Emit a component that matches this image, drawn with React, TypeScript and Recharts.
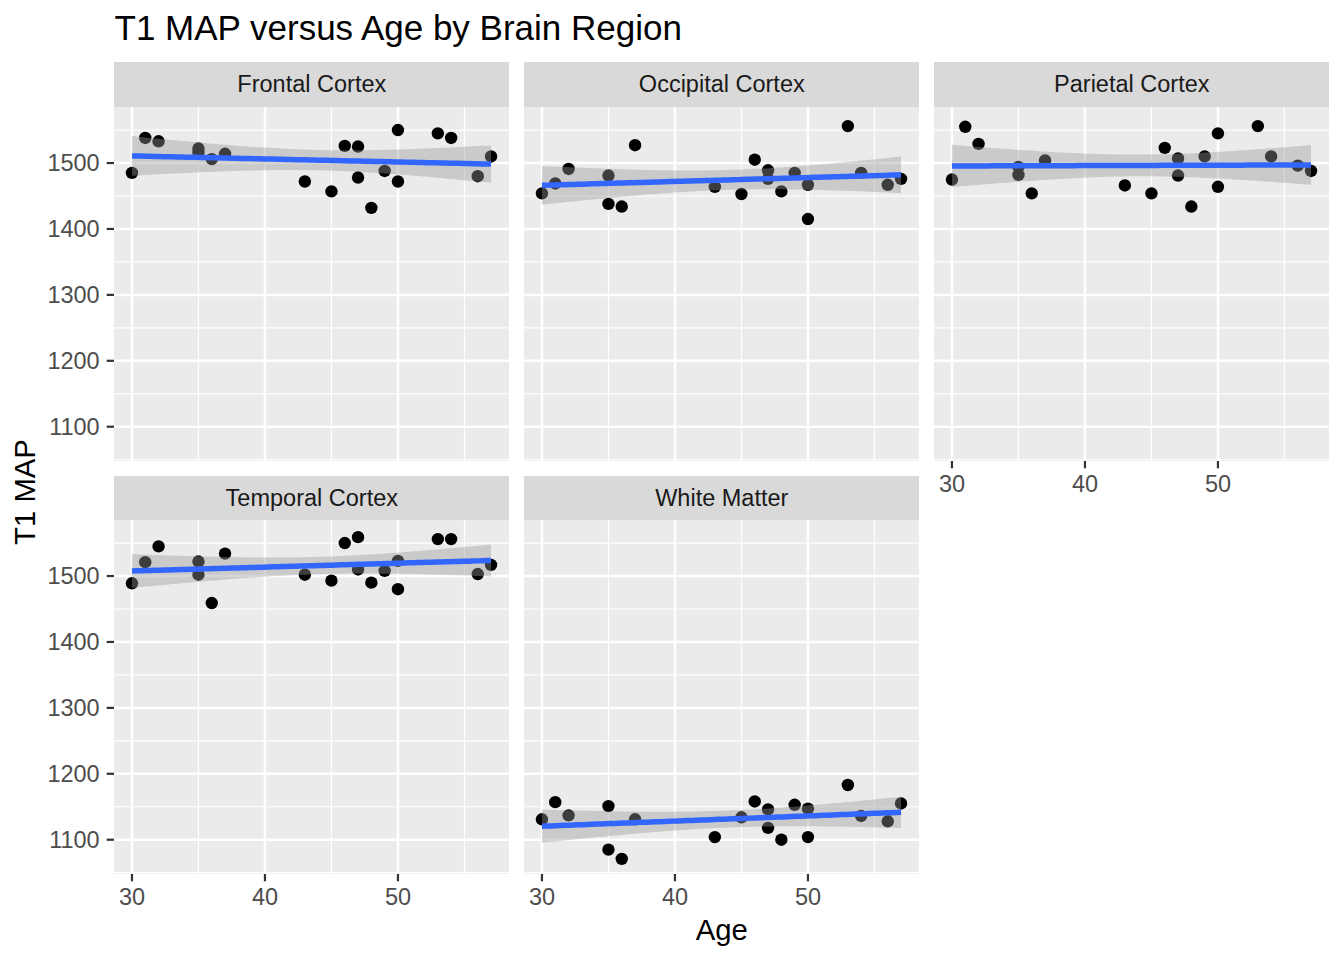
import React from 'react';
import { ComposedChart, XAxis, YAxis, Scatter, Line, Area, ReferenceLine } from 'recharts';

// subject ages, shared by every region
const AGES = [30, 31, 32, 35, 35, 36, 37, 43, 45, 46, 47, 47, 48, 49, 50, 50, 53, 54, 56, 57];

// T1 MAP per region, same order as AGES
const FRONTAL = [1485, 1538, 1533, 1522, 1516, 1506, 1514, 1472, 1457, 1526, 1525, 1478, 1432, 1488, 1550, 1472, 1545, 1538, 1480, 1510];
const OCCIPITAL = [1454, 1469, 1491, 1481, 1438, 1434, 1527, 1464, 1453, 1505, 1489, 1476, 1457, 1485, 1467, 1415, 1556, 1485, 1467, 1476];
const PARIETAL = [1475, 1555, 1529, 1494, 1482, 1454, 1504, 1466, 1454, 1523, 1507, 1481, 1434, 1510, 1545, 1464, 1556, 1510, 1496, 1488];
const TEMPORAL = [1489, 1521, 1545, 1522, 1502, 1459, 1534, 1502, 1493, 1550, 1559, 1510, 1490, 1508, 1523, 1480, 1556, 1556, 1503, 1517];
const WHITE_MATTER = [1131, 1157, 1137, 1151, 1085, 1071, 1131, 1104, 1134, 1158, 1146, 1118, 1100, 1153, 1147, 1104, 1183, 1136, 1128, 1155];

const X_TICKS = [30, 40, 50];
const X_MINOR = [35, 45, 55];
const Y_TICKS = [1100, 1200, 1300, 1400, 1500];
const Y_MINOR = [1050, 1150, 1250, 1350, 1450, 1550];
const X_DOMAIN: [number, number] = [28.65, 58.35];
const Y_DOMAIN: [number, number] = [1048, 1585];

const FONT = '"Liberation Sans", Arial, Helvetica, sans-serif';
const T_975_DF18 = 2.100922;

// panel geometry (px)
const PW = 395;
const PH = 354;
const STRIP = 44.4;
const AXW = 100;
const AXH = 40;
const COLS = [114.3, 524.3, 934.3];
const ROWS = [62.3, 476];

// lm fit + 95% CI, like geom_smooth(method = "lm")
function smooth(ys: number[]) {
  const n = AGES.length;
  const xbar = AGES.reduce((a, b) => a + b, 0) / n;
  const ybar = ys.reduce((a, b) => a + b, 0) / n;
  let sxx = 0;
  let sxy = 0;
  AGES.forEach((x, i) => {
    sxx += (x - xbar) ** 2;
    sxy += (x - xbar) * (ys[i] - ybar);
  });
  const slope = sxy / sxx;
  const icpt = ybar - slope * xbar;
  let sse = 0;
  AGES.forEach((x, i) => {
    sse += (ys[i] - (icpt + slope * x)) ** 2;
  });
  const s = Math.sqrt(sse / (n - 2));
  const lo = Math.min(...AGES);
  const hi = Math.max(...AGES);
  const out = [];
  for (let i = 0; i < 80; i++) {
    const x = lo + ((hi - lo) * i) / 79;
    const fit = icpt + slope * x;
    const se = s * Math.sqrt(1 / n + (x - xbar) ** 2 / sxx);
    out.push({ x, fit, band: [fit - T_975_DF18 * se, fit + T_975_DF18 * se] });
  }
  return out;
}

const dot = (p: any) => <circle cx={p.cx} cy={p.cy} r={6.2} fill="#000" />;

function Frame({ showX, showY, children }: { showX?: boolean; showY?: boolean; children?: React.ReactNode }) {
  const tickStyle = { fill: '#4D4D4D', fontSize: 23.5, fontFamily: FONT };
  const tickLine = { stroke: '#333333', strokeWidth: 2.2 };
  return (
    <ComposedChart width={AXW + PW} height={PH + AXH} margin={{ top: 0, right: 0, bottom: 0, left: 0 }}>
      <XAxis
        type="number"
        dataKey="x"
        domain={X_DOMAIN}
        ticks={X_TICKS}
        allowDataOverflow
        height={AXH}
        axisLine={false}
        tick={showX ? tickStyle : false}
        tickLine={showX ? tickLine : false}
        tickSize={7.3}
        tickMargin={7}
      />
      <YAxis
        type="number"
        dataKey="y"
        domain={Y_DOMAIN}
        ticks={Y_TICKS}
        allowDataOverflow
        width={AXW}
        axisLine={false}
        tick={showY ? tickStyle : false}
        tickLine={showY ? tickLine : false}
        tickSize={7.3}
        tickMargin={7}
      />
      {children}
    </ComposedChart>
  );
}

function Panel({ title, values, col, row, showX, showY }: any) {
  const left = COLS[col];
  const top = ROWS[row];
  const pts = AGES.map((x, i) => ({ x, y: values[i] }));
  const fit = smooth(values);
  const layer = (z: number): React.CSSProperties => ({
    position: 'absolute',
    left: left - AXW,
    top: top + STRIP,
    zIndex: z,
  });
  return (
    <>
      <div style={{ position: 'absolute', left, top, width: PW, height: STRIP, background: '#D9D9D9', zIndex: 1 }}>
        <div style={{ fontFamily: FONT, fontSize: 23.5, color: '#1A1A1A', textAlign: 'center', lineHeight: `${STRIP + 1.5}px` }}>
          {title}
        </div>
      </div>
      <div style={{ position: 'absolute', left, top: top + STRIP, width: PW, height: PH, background: '#EBEBEB', zIndex: 1 }} />
      <div style={layer(2)}>
        <Frame showX={showX} showY={showY}>
          {Y_MINOR.map((v) => <ReferenceLine key={'ym' + v} y={v} stroke="#FFFFFF" strokeWidth={1.2} />)}
          {X_MINOR.map((v) => <ReferenceLine key={'xm' + v} x={v} stroke="#FFFFFF" strokeWidth={1.2} />)}
          {Y_TICKS.map((v) => <ReferenceLine key={'y' + v} y={v} stroke="#FFFFFF" strokeWidth={2.5} />)}
          {X_TICKS.map((v) => <ReferenceLine key={'x' + v} x={v} stroke="#FFFFFF" strokeWidth={2.5} />)}
        </Frame>
      </div>
      <div style={layer(3)}>
        <Frame>
          <Scatter data={pts} shape={dot} isAnimationActive={false} />
        </Frame>
      </div>
      <div style={layer(4)}>
        <Frame>
          <Area data={fit} dataKey="band" stroke="none" fill="#999999" fillOpacity={0.4} isAnimationActive={false} />
          <Line data={fit} dataKey="fit" stroke="#3366FF" strokeWidth={5.5} dot={false} isAnimationActive={false} />
        </Frame>
      </div>
    </>
  );
}

export default function App() {
  return (
    <div style={{ position: 'absolute', left: 0, top: 0, width: 1344, height: 960, background: '#FFFFFF', overflow: 'hidden' }}>
      <svg width={1344} height={960} style={{ position: 'absolute', left: 0, top: 0, zIndex: 5, pointerEvents: 'none' }}>
        <text x={114.5} y={39.5} fontFamily={FONT} fontSize={35} fill="#000">T1 MAP versus Age by Brain Region</text>
        <text x={721.8} y={940} fontFamily={FONT} fontSize={29.3} fill="#000" textAnchor="middle">Age</text>
        <text x={35} y={492} fontFamily={FONT} fontSize={29.3} fill="#000" textAnchor="middle" transform="rotate(-90 35 492)">T1 MAP</text>
      </svg>
      <Panel title="Frontal Cortex" values={FRONTAL} col={0} row={0} showY />
      <Panel title="Occipital Cortex" values={OCCIPITAL} col={1} row={0} />
      <Panel title="Parietal Cortex" values={PARIETAL} col={2} row={0} showX />
      <Panel title="Temporal Cortex" values={TEMPORAL} col={0} row={1} showX showY />
      <Panel title="White Matter" values={WHITE_MATTER} col={1} row={1} showX />
    </div>
  );
}
